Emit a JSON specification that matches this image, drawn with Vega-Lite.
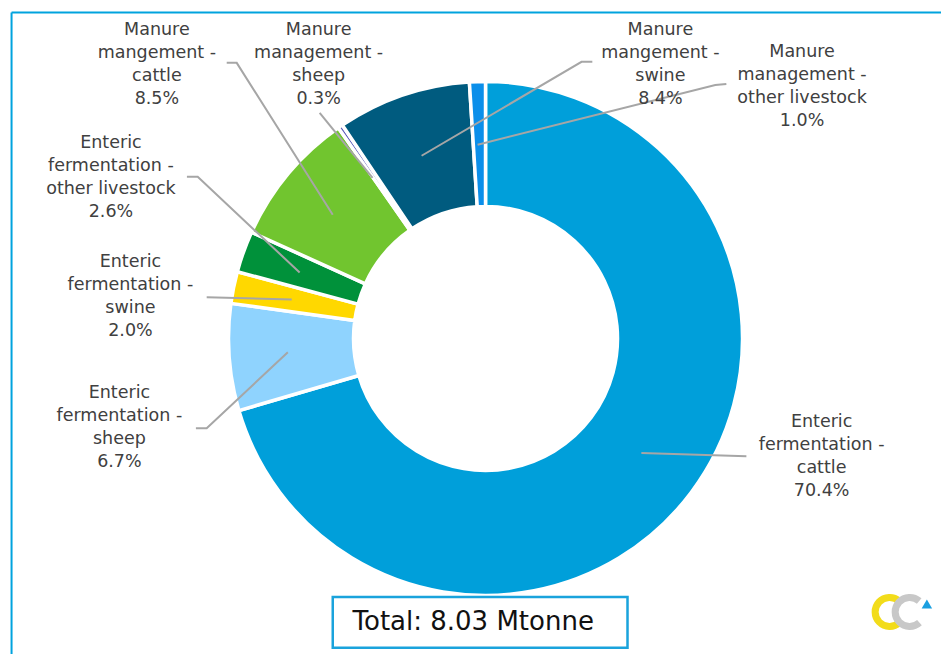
{
  "$schema": "https://vega.github.io/schema/vega-lite/v6.json",
  "width": 942,
  "height": 655,
  "autosize": {"type": "fit", "contains": "padding"},
  "padding": 0,
  "background": "white",
  "config": {"view": {"stroke": null}, "font": "DejaVu Sans"},
  "datasets": {
    "slices": [
      {"category": "Enteric fermentation - cattle", "order": 1, "value": 70.4},
      {"category": "Enteric fermentation - sheep", "order": 2, "value": 6.7},
      {"category": "Enteric fermentation - swine", "order": 3, "value": 2.0},
      {"category": "Enteric fermentation - other livestock", "order": 4, "value": 2.6},
      {"category": "Manure mangement - cattle", "order": 5, "value": 8.5},
      {"category": "Manure management - sheep", "order": 6, "value": 0.3},
      {"category": "Manure mangement - swine", "order": 7, "value": 8.4},
      {"category": "Manure management - other livestock", "order": 8, "value": 1.0}
    ],
    "labels": [
      {"label": "Manure\nmangement -\ncattle\n8.5%", "lx": -1.280, "ly": 1.204},
      {"label": "Manure\nmanagement -\nsheep\n0.3%", "lx": -0.650, "ly": 1.204},
      {"label": "Enteric\nfermentation -\nother livestock\n2.6%", "lx": -1.459, "ly": 0.763},
      {"label": "Manure\nmangement -\nswine\n8.4%", "lx": 0.681, "ly": 1.202},
      {"label": "Manure\nmanagement -\nother livestock\n1.0%", "lx": 1.233, "ly": 1.117},
      {"label": "Enteric\nfermentation -\nswine\n2.0%", "lx": -1.383, "ly": 0.296},
      {"label": "Enteric\nfermentation -\nsheep\n6.7%", "lx": -1.426, "ly": -0.214},
      {"label": "Enteric\nfermentation -\ncattle\n70.4%", "lx": 1.309, "ly": -0.327}
    ],
    "leaders": [
      {"id": "mc", "i": 1, "x": -1.008, "y": 1.074},
      {"id": "mc", "i": 2, "x": -0.969, "y": 1.074},
      {"id": "mc", "i": 3, "x": -0.595, "y": 0.482},
      {"id": "ms", "i": 1, "x": -0.646, "y": 0.879},
      {"id": "ms", "i": 2, "x": -0.440, "y": 0.626},
      {"id": "eo", "i": 1, "x": -1.163, "y": 0.630},
      {"id": "eo", "i": 2, "x": -1.121, "y": 0.630},
      {"id": "eo", "i": 3, "x": -0.724, "y": 0.257},
      {"id": "mw", "i": 1, "x": 0.416, "y": 1.078},
      {"id": "mw", "i": 2, "x": 0.374, "y": 1.078},
      {"id": "mw", "i": 3, "x": -0.249, "y": 0.712},
      {"id": "mo", "i": 1, "x": 0.938, "y": 0.992},
      {"id": "mo", "i": 2, "x": 0.895, "y": 0.988},
      {"id": "mo", "i": 3, "x": -0.031, "y": 0.755},
      {"id": "ew", "i": 1, "x": -1.086, "y": 0.160},
      {"id": "ew", "i": 2, "x": -0.755, "y": 0.152},
      {"id": "es", "i": 1, "x": -1.128, "y": -0.350},
      {"id": "es", "i": 2, "x": -1.086, "y": -0.350},
      {"id": "es", "i": 3, "x": -0.770, "y": -0.054},
      {"id": "ec", "i": 1, "x": 1.016, "y": -0.459},
      {"id": "ec", "i": 2, "x": 0.607, "y": -0.447}
    ],
    "frame": [
      {"side": "top", "x1": -1.846, "x2": 1.774, "y1": 1.270, "y2": 1.270},
      {"side": "left", "x1": -1.846, "x2": -1.846, "y1": 1.270, "y2": -1.230}
    ],
    "total": [
      {"text": "Total: 8.03 Mtonne", "bx1": -0.595, "bx2": 0.553, "by1": -1.008, "by2": -1.206, "tx": -0.518, "ty": -1.105}
    ]
  },
  "layer": [
    {
      "data": {"name": "frame"},
      "mark": {"type": "rule", "color": "#00A3DE", "strokeWidth": 2},
      "encoding": {
        "x": {"field": "x1", "type": "quantitative", "scale": {"domain": [-1.891, 1.774], "nice": false, "zero": false}, "axis": null},
        "x2": {"field": "x2"},
        "y": {"field": "y1", "type": "quantitative", "scale": {"domain": [-1.230, 1.319], "nice": false, "zero": false}, "axis": null},
        "y2": {"field": "y2"}
      }
    },
    {
      "data": {"name": "slices"},
      "mark": {"type": "arc", "outerRadius": 257, "innerRadius": 132, "stroke": "white", "strokeWidth": 3.5},
      "encoding": {
        "x": {"datum": 0, "type": "quantitative"},
        "y": {"datum": 0, "type": "quantitative"},
        "theta": {"field": "value", "type": "quantitative", "stack": true},
        "order": {"field": "order", "type": "quantitative"},
        "color": {
          "field": "category",
          "type": "nominal",
          "legend": null,
          "scale": {
            "domain": ["Enteric fermentation - cattle", "Enteric fermentation - sheep", "Enteric fermentation - swine", "Enteric fermentation - other livestock", "Manure mangement - cattle", "Manure management - sheep", "Manure mangement - swine", "Manure management - other livestock"],
            "range": ["#009FDA", "#8FD3FE", "#FFD800", "#00913A", "#71C52F", "#5C5CB8", "#005B7F", "#0B8FEA"]
          }
        }
      }
    },
    {
      "data": {"name": "leaders"},
      "mark": {"type": "line", "color": "#A6A6A6", "strokeWidth": 2},
      "encoding": {
        "x": {"field": "x", "type": "quantitative"},
        "y": {"field": "y", "type": "quantitative"},
        "detail": {"field": "id"},
        "order": {"field": "i", "type": "quantitative"}
      }
    },
    {
      "data": {"name": "labels"},
      "mark": {"type": "text", "lineBreak": "\n", "lineHeight": 23, "fontSize": 17.5, "color": "#404040", "align": "center", "baseline": "middle", "font": "DejaVu Sans"},
      "encoding": {
        "x": {"field": "lx", "type": "quantitative"},
        "y": {"field": "ly", "type": "quantitative"},
        "text": {"field": "label"}
      }
    },
    {
      "data": {"name": "total"},
      "mark": {"type": "rect", "fill": "white", "stroke": "#1AA3DC", "strokeWidth": 2.5},
      "encoding": {
        "x": {"field": "bx1", "type": "quantitative"},
        "x2": {"field": "bx2"},
        "y": {"field": "by1", "type": "quantitative"},
        "y2": {"field": "by2"}
      }
    },
    {
      "data": {"name": "total"},
      "mark": {"type": "text", "fontSize": 26, "color": "#111111", "align": "left", "baseline": "middle", "font": "DejaVu Sans"},
      "encoding": {
        "x": {"field": "tx", "type": "quantitative"},
        "y": {"field": "ty", "type": "quantitative"},
        "text": {"field": "text"}
      }
    },
    {
      "data": {"values": [{"k": "a"}]},
      "mark": {"type": "arc", "outerRadius": 18, "innerRadius": 11, "theta": 2.4, "theta2": 7.0, "color": "#F2DC1A"},
      "encoding": {"x": {"datum": 1.574, "type": "quantitative"}, "y": {"datum": -1.066, "type": "quantitative"}}
    },
    {
      "data": {"values": [{"k": "b"}]},
      "mark": {"type": "arc", "outerRadius": 18, "innerRadius": 11, "theta": 2.4, "theta2": 7.0, "color": "#C8C8C8"},
      "encoding": {"x": {"datum": 1.652, "type": "quantitative"}, "y": {"datum": -1.066, "type": "quantitative"}}
    },
    {
      "data": {"values": [{"k": "c"}]},
      "mark": {"type": "point", "shape": "triangle-up", "size": 110, "filled": true, "color": "#1A9FE0", "opacity": 1},
      "encoding": {"x": {"datum": 1.719, "type": "quantitative"}, "y": {"datum": -1.035, "type": "quantitative"}}
    }
  ]
}
